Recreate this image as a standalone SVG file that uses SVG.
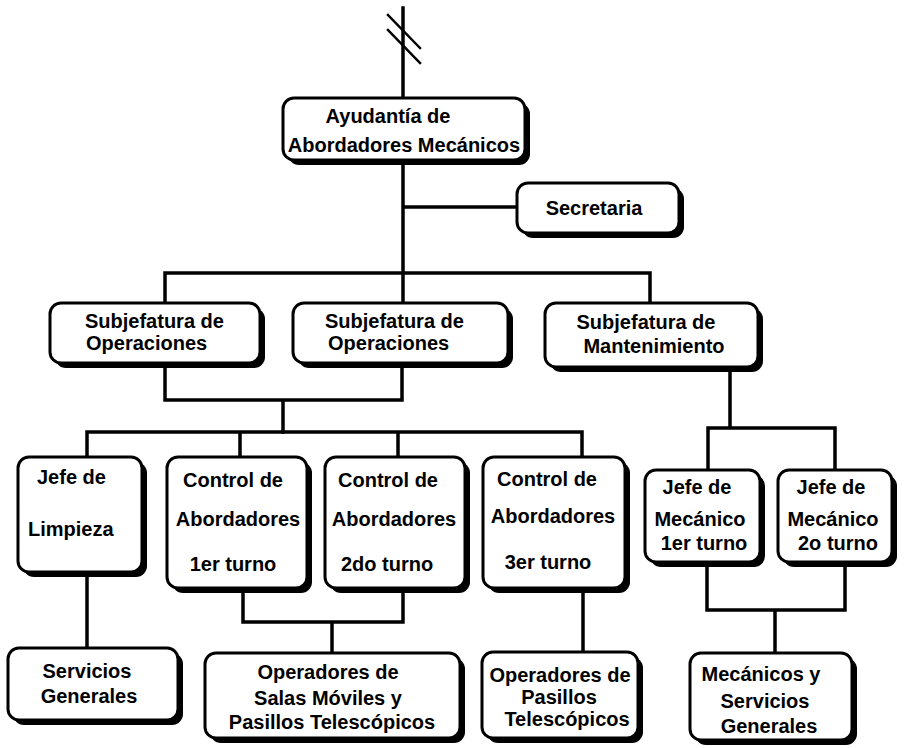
<svg xmlns="http://www.w3.org/2000/svg" width="906" height="748" viewBox="0 0 906 748">
<style>
.sh{fill:#000}
.bx{fill:#fff;stroke:#000;stroke-width:3}
.ln{fill:none;stroke:#000;stroke-width:3.5;stroke-linecap:square}
text{font-family:"Liberation Sans",Arial,sans-serif;font-weight:bold;font-size:20px;fill:#000}
.m{text-anchor:middle}
</style>
<rect width="906" height="748" fill="#fff"/>
<g id="connectors">
<path class="ln" d="M403 8V98"/>
<path class="ln" style="stroke-width:2.5" d="M388 15L420 48M388 30L420 63"/>
<path class="ln" d="M403 160V273M403 207H517"/>
<path class="ln" d="M165 303V273H650V303M403 273V303"/>
<path class="ln" d="M165 363V400H402V363M283 400V432"/>
<path class="ln" d="M87 457V432H582V457M240 432V457M398 432V457"/>
<path class="ln" d="M730 367V428M708 470V428H835V470"/>
<path class="ln" d="M87 572V648"/>
<path class="ln" d="M243 588V622H403V588M332 622V653"/>
<path class="ln" d="M583 588V652"/>
<path class="ln" d="M707 562V610H845V562M775 610V653"/>
</g>
<g id="n-ayudantia">
<rect class="sh" x="288" y="103" width="242" height="62" rx="11"/>
<rect class="bx" x="283" y="98" width="242" height="62" rx="11"/>
<text class="m" x="388" y="123">Ayudantía de</text>
<text class="m" x="404" y="152">Abordadores Mecánicos</text>
</g>
<g id="n-secretaria">
<rect class="sh" x="522" y="188" width="162" height="50" rx="11"/>
<rect class="bx" x="517" y="183" width="162" height="50" rx="11"/>
<text class="m" x="594" y="215">Secretaria</text>
</g>
<g id="n-sub1">
<rect class="sh" x="55" y="308" width="210" height="60" rx="11"/>
<rect class="bx" x="50" y="303" width="210" height="60" rx="11"/>
<text x="85" y="328">Subjefatura de</text>
<text x="86" y="350">Operaciones</text>
</g>
<g id="n-sub2">
<rect class="sh" x="298" y="308" width="215" height="60" rx="11"/>
<rect class="bx" x="293" y="303" width="215" height="60" rx="11"/>
<text x="325" y="328">Subjefatura de</text>
<text x="328" y="350">Operaciones</text>
</g>
<g id="n-sub3">
<rect class="sh" x="550" y="308" width="213" height="64" rx="11"/>
<rect class="bx" x="545" y="303" width="213" height="64" rx="11"/>
<text class="m" x="646" y="329">Subjefatura de</text>
<text class="m" x="654" y="353">Mantenimiento</text>
</g>
<g id="n-limpieza">
<rect class="sh" x="23" y="462" width="124" height="115" rx="11"/>
<rect class="bx" x="18" y="457" width="124" height="115" rx="11"/>
<text x="37" y="484">Jefe de</text>
<text x="28" y="536">Limpieza</text>
</g>
<g id="n-control1">
<rect class="sh" x="172" y="462" width="140" height="131" rx="11"/>
<rect class="bx" x="167" y="457" width="140" height="131" rx="11"/>
<text class="m" x="233" y="487">Control de</text>
<text class="m" x="238" y="526">Abordadores</text>
<text class="m" x="233" y="571">1er turno</text>
</g>
<g id="n-control2">
<rect class="sh" x="330" y="462" width="140" height="131" rx="11"/>
<rect class="bx" x="325" y="457" width="140" height="131" rx="11"/>
<text class="m" x="388" y="487">Control de</text>
<text class="m" x="394" y="526">Abordadores</text>
<text class="m" x="387" y="571">2do turno</text>
</g>
<g id="n-control3">
<rect class="sh" x="488" y="462" width="142" height="131" rx="11"/>
<rect class="bx" x="483" y="457" width="142" height="131" rx="11"/>
<text class="m" x="547" y="486">Control de</text>
<text class="m" x="553" y="523">Abordadores</text>
<text class="m" x="548" y="569">3er turno</text>
</g>
<g id="n-jefemec1">
<rect class="sh" x="650" y="475" width="115" height="92" rx="11"/>
<rect class="bx" x="645" y="470" width="115" height="92" rx="11"/>
<text class="m" x="697" y="494">Jefe de</text>
<text class="m" x="700" y="526">Mecánico</text>
<text class="m" x="704" y="550">1er turno</text>
</g>
<g id="n-jefemec2">
<rect class="sh" x="783" y="475" width="114" height="92" rx="11"/>
<rect class="bx" x="778" y="470" width="114" height="92" rx="11"/>
<text class="m" x="831" y="494">Jefe de</text>
<text class="m" x="833" y="526">Mecánico</text>
<text class="m" x="838" y="550">2o turno</text>
</g>
<g id="n-servicios">
<rect class="sh" x="13" y="653" width="170" height="72" rx="11"/>
<rect class="bx" x="8" y="648" width="170" height="72" rx="11"/>
<text class="m" x="87" y="678">Servicios</text>
<text class="m" x="89" y="703">Generales</text>
</g>
<g id="n-opsalas">
<rect class="sh" x="210" y="658" width="255" height="85" rx="11"/>
<rect class="bx" x="205" y="653" width="255" height="85" rx="11"/>
<text class="m" x="328" y="679">Operadores de</text>
<text class="m" x="328" y="705">Salas Móviles y</text>
<text class="m" x="332" y="729">Pasillos Telescópicos</text>
</g>
<g id="n-oppasillos">
<rect class="sh" x="487" y="657" width="156" height="86" rx="11"/>
<rect class="bx" x="482" y="652" width="156" height="86" rx="11"/>
<text class="m" x="560" y="682">Operadores de</text>
<text class="m" x="559" y="704">Pasillos</text>
<text class="m" x="567" y="726">Telescópicos</text>
</g>
<g id="n-mecanicos">
<rect class="sh" x="695" y="658" width="162" height="87" rx="11"/>
<rect class="bx" x="690" y="653" width="162" height="87" rx="11"/>
<text class="m" x="761" y="681">Mecánicos y</text>
<text class="m" x="765" y="708">Servicios</text>
<text class="m" x="769" y="733">Generales</text>
</g>
</svg>
